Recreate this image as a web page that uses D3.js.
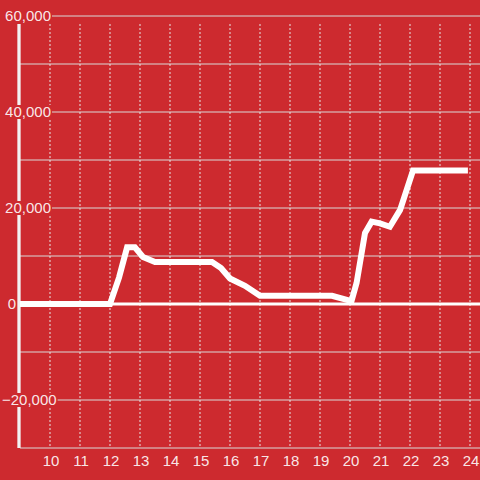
<!DOCTYPE html>
<html><head><meta charset="utf-8">
<script src="https://cdn.jsdelivr.net/npm/d3@7"></script>
<style>html,body{margin:0;padding:0;background:#cd2a2f;}svg{display:block;}</style>
</head><body>
<svg id="c" width="480" height="480"></svg>
<script>
const hours = [9, 12.0, 12.3, 12.57, 12.83, 13.1, 13.5, 15.4, 15.7, 16.0, 16.5, 17.0, 19.4, 20.05, 20.22, 20.5, 20.72, 21.0, 21.33, 21.67, 22.1, 23.93];
const values = [0, 0, 5500, 11800, 11800, 9800, 8750, 8750, 7500, 5300, 3800, 1700, 1700, 600, 4400, 14800, 17150, 16800, 16100, 19600, 27800, 27800];
const xTicks = [10, 11, 12, 13, 14, 15, 16, 17, 18, 19, 20, 21, 22, 23, 24];
const yGrid = [60000, 50000, 40000, 30000, 20000, 10000, 0, -10000, -20000, -30000];
const yLabels = [60000, 40000, 20000, 0, -20000];

const bg = "#cd2a2f";
const font = "'Liberation Sans', Arial, sans-serif";
const svg = d3.select("#c");
svg.append("rect").attr("width", 480).attr("height", 480).attr("fill", bg);

const x = d3.scaleLinear().domain([9, 24 + 1/3]).range([20, 480]);
const y = d3.scaleLinear().domain([-30000, 60000]).range([448, 16]);

// horizontal grid
svg.append("g").selectAll("line").data(yGrid.filter(v => v !== 0)).join("line")
  .attr("x1", 20).attr("x2", 480)
  .attr("y1", d => y(d)).attr("y2", d => y(d))
  .attr("stroke", "#d9d9d9").attr("stroke-width", 1);

// vertical dashed grid
svg.append("g").selectAll("line").data(xTicks).join("line")
  .attr("x1", d => x(d)).attr("x2", d => x(d))
  .attr("y1", 24).attr("y2", 448)
  .attr("stroke", "#e6e6e6").attr("stroke-width", 1)
  .attr("stroke-dasharray", "2,2");

// zero line
svg.append("line").attr("x1", 19).attr("x2", 480)
  .attr("y1", y(0)).attr("y2", y(0))
  .attr("stroke", "#ffffff").attr("stroke-width", 3);

// y axis line
svg.append("line").attr("x1", 19).attr("x2", 19)
  .attr("y1", 24).attr("y2", 448)
  .attr("stroke", "#f2f2f2").attr("stroke-width", 3.3);

// data line
const line = d3.line().x((d, i) => x(hours[i])).y(d => y(d));
svg.append("path").datum(values).attr("d", line)
  .attr("fill", "none").attr("stroke", "#ffffff").attr("stroke-width", 6);

// y labels with background
const fmt = d3.format(",");
const yl = svg.append("g").selectAll("g").data(yLabels).join("g");
yl.each(function(d) {
  const g = d3.select(this);
  const t = g.append("text")
    .attr("y", y(d)).attr("dy", "0.35em")
    .attr("text-anchor", "end")
    .attr("font-family", font)
    .attr("font-size", 15)
    .attr("fill", "rgba(255,255,255,0.9)")
    .text(fmt(d));
  const w = t.node().getComputedTextLength();
  const xr = d === 0 ? 16 : Math.max(51, w + 2);
  t.attr("x", xr);
  if (d !== 0) {
    g.insert("rect", "text").attr("x", xr - w - 1).attr("y", y(d) - 7)
      .attr("width", w + 2).attr("height", 14).attr("fill", bg);
  }
});

// x labels
svg.append("g").selectAll("text").data(xTicks).join("text")
  .attr("x", d => x(d) + 1).attr("y", 466)
  .attr("text-anchor", "middle")
  .attr("font-family", font)
  .attr("font-size", 15)
  .attr("fill", "rgba(255,255,255,0.9)")
  .text(d => d);
</script>
</body></html>
